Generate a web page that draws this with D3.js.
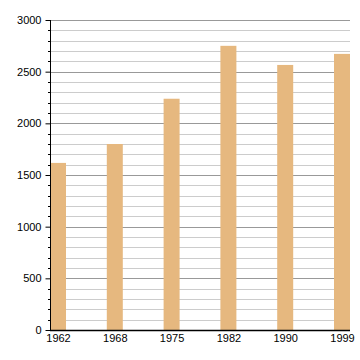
<!DOCTYPE html>
<html>
<head>
<meta charset="utf-8">
<script src="https://cdn.jsdelivr.net/npm/d3@7"></script>
<style>
  body { margin: 0; background: #fff; }
  text { font-family: "Liberation Sans", Arial, sans-serif; font-size: 11px; fill: #000; }
</style>
</head>
<body>
<div id="chart"></div>
<script>
// data
const years = ["1962", "1968", "1975", "1982", "1990", "1999"];
const population = [1617, 1800, 2238, 2750, 2565, 2672];
const yTicks = [0, 500, 1000, 1500, 2000, 2500, 3000];

const width = 360;
const height = 360;
const X0 = 50, X1 = 350;
const Y_TOP = 20, Y_BOT = 330;
const BAR_W = 16;

const BAR_COLOR = "#e6b87f";
const GRID_MAJOR = "#999";
const GRID_MINOR = "#ccc";

const svg = d3.select("#chart")
  .append("svg")
  .attr("width", width)
  .attr("height", height);

const x = d3.scalePoint()
  .domain(years)
  .range([X0 + BAR_W / 2, X1 - BAR_W / 2]);

const y = d3.scaleLinear()
  .domain([0, 3000])
  .range([Y_BOT, Y_TOP]);

// minor grid every 100
const minor = d3.range(100, 3001, 100).filter(v => v % 500 !== 0);
svg.append("g")
  .selectAll("line")
  .data(minor)
  .enter()
  .append("line")
  .attr("x1", X0).attr("x2", X1)
  .attr("y1", d => Math.round(y(d)) + 0.5)
  .attr("y2", d => Math.round(y(d)) + 0.5)
  .attr("stroke", GRID_MINOR);

// major grid every 500
svg.append("g")
  .selectAll("line")
  .data(yTicks.filter(v => v > 0))
  .enter()
  .append("line")
  .attr("x1", X0).attr("x2", X1)
  .attr("y1", d => Math.round(y(d)) + 0.5)
  .attr("y2", d => Math.round(y(d)) + 0.5)
  .attr("stroke", GRID_MAJOR);

// bars
svg.append("g")
  .selectAll("rect")
  .data(population)
  .enter()
  .append("rect")
  .attr("x", (d, i) => x(years[i]) - BAR_W / 2)
  .attr("y", d => y(d))
  .attr("width", BAR_W)
  .attr("height", d => Y_BOT - y(d))
  .attr("fill", BAR_COLOR);

// minor ticks on the left axis
svg.append("g")
  .selectAll("line")
  .data(minor)
  .enter()
  .append("line")
  .attr("x1", X0 - 2).attr("x2", X0)
  .attr("y1", d => Math.round(y(d)) + 0.5)
  .attr("y2", d => Math.round(y(d)) + 0.5)
  .attr("stroke", "#000");

// y axis
const yAxis = svg.append("g")
  .attr("transform", `translate(${X0 + 0.5},0)`)
  .call(d3.axisLeft(y).tickValues(yTicks).tickSize(5).tickPadding(4).tickFormat(d3.format("d")));
yAxis.select(".domain").attr("d", `M0,${Y_TOP}V${Y_BOT}`);
yAxis.selectAll("text").style("font-size", "11px").attr("fill", "#000");

// x axis
const xAxis = svg.append("g")
  .attr("transform", `translate(0,${Y_BOT + 0.5})`)
  .call(d3.axisBottom(x).tickSize(0).tickPadding(4));
xAxis.select(".domain").attr("d", `M${X0},0H${X1}`).attr("stroke-width", 1.5);
xAxis.selectAll("text").style("font-size", "11px").attr("fill", "#000");
</script>
</body>
</html>
